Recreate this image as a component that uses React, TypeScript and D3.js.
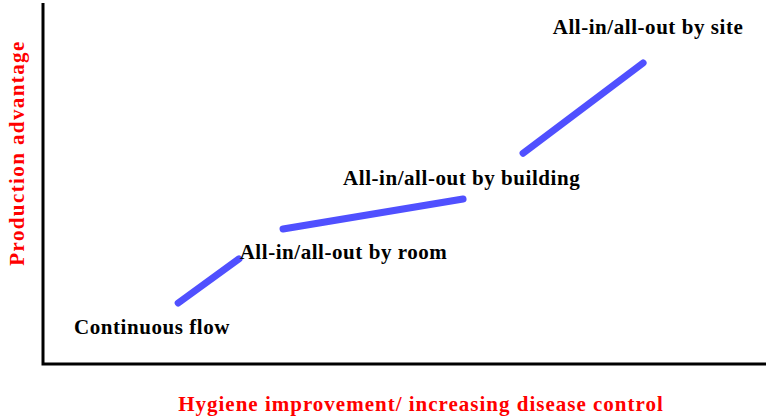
import { useRef, useEffect } from "react";
import * as d3 from "d3";

// stages: start/end in data units (x: hygiene 0-100, y: advantage 0-100)
const stageNames = [
  "Continuous flow",
  "All-in/all-out by room",
  "All-in/all-out by building",
  "All-in/all-out by site",
];
const segStartX = [18.7, 33.2, 66.4];
const segEndX = [27.1, 58.1, 83.0];
const segStartY = [16.9, 37.4, 58.4];
const segEndY = [29.1, 45.7, 83.4];
const labelX = [4.3, 27.2, 41.5, 70.5];
const labelY = [8.3, 29.1, 49.6, 91.4];

const xTitle = "Hygiene improvement/ increasing disease control";
const yTitle = "Production advantage";

const font = "'Liberation Serif', 'Times New Roman', serif";

export default function App() {
  const ref = useRef<SVGSVGElement | null>(null);

  useEffect(() => {
    if (!ref.current) return;
    const W = 766;
    const H = 419;
    const margin = { top: 3, right: 0, bottom: 55, left: 43 };

    const svg = d3.select(ref.current);
    svg.selectAll("*").remove();
    svg.attr("width", W).attr("height", H);

    const x = d3.scaleLinear().domain([0, 100]).range([margin.left, W - margin.right]);
    const y = d3.scaleLinear().domain([0, 100]).range([H - margin.bottom, margin.top]);

    // axes as plain lines, no ticks
    svg
      .append("path")
      .attr("d", `M${x(0)},${y(100)}V${y(0)}H${x(100)}`)
      .attr("fill", "none")
      .attr("stroke", "#000")
      .attr("stroke-width", 3);

    const segs = segStartX.map((sx, i) => [
      [sx, segStartY[i]],
      [segEndX[i], segEndY[i]],
    ]);
    const line = d3
      .line<number[]>()
      .x((d) => x(d[0]))
      .y((d) => y(d[1]));

    svg
      .selectAll("path.seg")
      .data(segs)
      .join("path")
      .attr("class", "seg")
      .attr("d", (d) => line(d) || "")
      .attr("fill", "none")
      .attr("stroke", "#5050FF")
      .attr("stroke-width", 7)
      .attr("stroke-linecap", "round");

    svg
      .selectAll("text.stage")
      .data(stageNames)
      .join("text")
      .attr("class", "stage")
      .attr("x", (_, i) => x(labelX[i]))
      .attr("y", (_, i) => y(labelY[i]))
      .attr("font-family", font)
      .attr("font-weight", "bold")
      .attr("font-size", 21)
      .attr("letter-spacing", 0.55)
      .attr("fill", "#000")
      .text((d) => d);

    svg
      .append("text")
      .attr("x", 421)
      .attr("y", 411)
      .attr("text-anchor", "middle")
      .attr("font-family", font)
      .attr("font-weight", "bold")
      .attr("font-size", 21)
      .attr("letter-spacing", 1)
      .attr("fill", "#FF0000")
      .text(xTitle);

    svg
      .append("text")
      .attr("transform", "translate(24,153) rotate(-90)")
      .attr("text-anchor", "middle")
      .attr("font-family", font)
      .attr("font-weight", "bold")
      .attr("font-size", 21)
      .attr("letter-spacing", 1.4)
      .attr("fill", "#FF0000")
      .text(yTitle);
  }, []);

  return (
    <svg
      ref={ref}
      style={{ position: "absolute", left: 0, top: 0, display: "block", background: "#fff" }}
    />
  );
}
